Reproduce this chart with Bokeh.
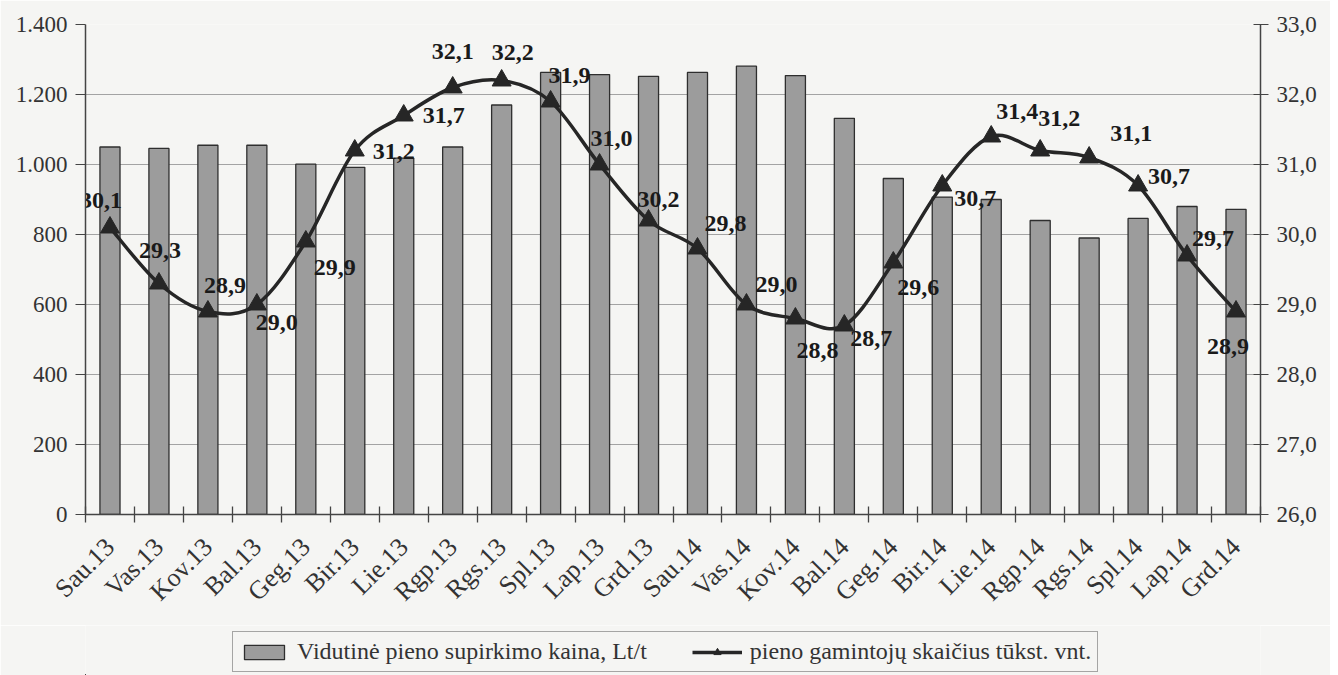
import numpy as np
from bokeh.plotting import figure
from bokeh.layouts import column
from bokeh.models import (Range1d, LinearAxis, FixedTicker, ColumnDataSource,
                          Legend, LegendItem)
from bokeh.embed import file_html
from bokeh.resources import INLINE
from bokeh.core.properties import value

# ---------------- data ----------------
months = ["Sau.13", "Vas.13", "Kov.13", "Bal.13", "Geg.13", "Bir.13", "Lie.13",
          "Rgp.13", "Rgs.13", "Spl.13", "Lap.13", "Grd.13",
          "Sau.14", "Vas.14", "Kov.14", "Bal.14", "Geg.14", "Bir.14", "Lie.14",
          "Rgp.14", "Rgs.14", "Spl.14", "Lap.14", "Grd.14"]
price = [1050, 1046, 1055, 1055, 1001, 992, 1018, 1050, 1170, 1263, 1257, 1252,
         1263, 1281, 1254, 1132, 960, 907, 900, 840, 790, 846, 880, 872]
producers = [30.1, 29.3, 28.9, 29.0, 29.9, 31.2, 31.7, 32.1, 32.2, 31.9, 31.0, 30.2,
             29.8, 29.0, 28.8, 28.7, 29.6, 30.7, 31.4, 31.2, 31.1, 30.7, 29.7, 28.9]
left_ticks = [0, 200, 400, 600, 800, 1000, 1200, 1400]
right_ticks = [26, 27, 28, 29, 30, 31, 32, 33]
bar_label = "Vidutinė pieno supirkimo kaina, Lt/t"
line_label = "pieno gamintojų skaičius tūkst. vnt."

# ---------------- style (label offsets in screen px, +y = down) ----------------
label_dx = [-9, 1, 17, 20, 29, 39, 40, 0, 11, 19, 12, 10,
            28, 30, 22, 27, 25, 33, 26, 19, 42, 31, 26, -8]
label_dy = [-27, -33, -26, 18, 26, 1, 0, -36, -28, -26, -26, -21,
            -25, -20, 32, 13, 25, 13, -25, -32, -24, -9, -17, 35]

PAPER = "#f5f5f3"
INK = "#262626"
FONT = "Liberation Serif"
BAR_FILL = "#9c9c9c"
BAR_LINE = "#2e2e2e"

n = len(months)
xs = [int(i) for i in range(n)]

p = figure(width=1330, height=625, output_backend="svg", toolbar_location=None,
           x_range=Range1d(-0.5, n - 0.5), y_range=Range1d(0, 1400),
           min_border_left=85, min_border_right=70, min_border_top=24,
           min_border_bottom=111,
           background_fill_color=PAPER, border_fill_color=PAPER,
           outline_line_color=None)
p.extra_y_ranges = {"right": Range1d(26, 33)}

# bars
p.vbar(x=xs, top=price, bottom=0, width=0.41, fill_color=BAR_FILL,
       line_color=BAR_LINE, line_width=1.3)

# smoothed line (Catmull-Rom style bezier segments between the data points)
P = np.column_stack([np.array(xs, dtype=float), np.array(producers, dtype=float)])
seg = dict(x0=[], y0=[], x1=[], y1=[], cx0=[], cy0=[], cx1=[], cy1=[])
for i in range(n - 1):
    p0 = P[i - 1] if i > 0 else P[i]
    p1 = P[i]
    p2 = P[i + 1]
    p3 = P[i + 2] if i + 2 < n else P[i + 1]
    c0 = p1 + (p2 - p0) / 6.0
    c1 = p2 - (p3 - p1) / 6.0
    seg["x0"].append(p1[0]); seg["y0"].append(p1[1])
    seg["x1"].append(p2[0]); seg["y1"].append(p2[1])
    seg["cx0"].append(c0[0]); seg["cy0"].append(c0[1])
    seg["cx1"].append(c1[0]); seg["cy1"].append(c1[1])
p.bezier(x0="x0", y0="y0", x1="x1", y1="y1", cx0="cx0", cy0="cy0",
         cx1="cx1", cy1="cy1", source=ColumnDataSource(seg),
         line_color=INK, line_width=3.5, y_range_name="right")

p.scatter(x=xs, y=producers, marker="triangle", size=19,
          fill_color=INK, line_color=INK, y_range_name="right")

labels = [f"{v:.1f}".replace(".", ",") for v in producers]
p.text(x=xs, y=producers, text=labels, x_offset=label_dx, y_offset=label_dy,
       text_align="center", text_baseline="middle", text_color="#1a1a1a",
       text_font=value(FONT), text_font_style="bold", text_font_size="24px",
       y_range_name="right")

# x axis: labels at category centres, ticks at category borders
xa = p.xaxis[0]
xa.ticker = FixedTicker(ticks=xs, minor_ticks=[i - 0.5 for i in range(n + 1)])
xa.major_label_overrides = {i: m for i, m in zip(xs, months)}
xa.major_tick_line_color = None
xa.major_tick_in = 0
xa.major_tick_out = 0
xa.minor_tick_in = 8
xa.minor_tick_out = 8
xa.minor_tick_line_color = "#444444"
xa.minor_tick_line_width = 1.3
xa.major_label_orientation = np.pi / 4
xa.major_label_standoff = 20
xa.axis_line_color = "#444444"
xa.axis_line_width = 1.5
xa.major_label_text_font = FONT
xa.major_label_text_font_size = "26px"
xa.major_label_text_color = "#333333"

# left axis
ya = p.yaxis[0]
ya.ticker = FixedTicker(ticks=left_ticks)
ya.major_label_overrides = {v: f"{v:,}".replace(",", ".") for v in left_ticks}
ya.major_tick_in = 0
ya.major_tick_out = 10

# right axis
ra = LinearAxis(y_range_name="right", ticker=FixedTicker(ticks=right_ticks))
ra.major_label_overrides = {v: f"{v:.1f}".replace(".", ",") for v in right_ticks}
ra.major_tick_in = 7
ra.major_tick_out = 8
p.add_layout(ra, "right")

for ax in (ya, ra):
    ax.minor_tick_line_color = None
    ax.axis_line_color = "#444444"
    ax.axis_line_width = 1.5
    ax.major_tick_line_color = "#444444"
    ax.major_label_text_font = FONT
    ax.major_label_text_font_size = "23px"
    ax.major_label_text_color = "#333333"
    ax.major_label_standoff = 8

p.ygrid.ticker = FixedTicker(ticks=left_ticks)
p.ygrid.grid_line_color = "#a3a3a3"
p.ygrid.grid_line_width = 1
p.xgrid.visible = False

# ---------------- legend strip below the chart ----------------
# the key renderers use the same series, kept outside this strip's visible range
lg = figure(width=1330, height=50, output_backend="svg", toolbar_location=None,
            x_range=Range1d(1000, 1001), y_range=Range1d(50000, 50010),
            min_border_left=0, min_border_right=0, min_border_top=0,
            min_border_bottom=0,
            background_fill_color=PAPER, border_fill_color=PAPER,
            outline_line_color=None)
lg.axis.visible = False
lg.grid.visible = False
key_bar = lg.vbar(x=xs, top=price, bottom=0, width=0.41, fill_color=BAR_FILL,
                  line_color=BAR_LINE, line_width=1.3)
key_line = lg.line(x=xs, y=producers, line_color=INK, line_width=3.5)
key_mark = lg.scatter(x=xs, y=producers, marker="triangle", size=19,
                      fill_color=INK, line_color=INK)
legend = Legend(items=[LegendItem(label=bar_label, renderers=[key_bar]),
                       LegendItem(label=line_label, renderers=[key_line, key_mark])],
                orientation="horizontal", location=(147, 3),
                border_line_color="#555555", border_line_width=1.3,
                background_fill_color=PAPER, background_fill_alpha=1,
                label_text_font=FONT, label_text_font_size="24px",
                label_text_color="#333333",
                glyph_width=50, glyph_height=18, spacing=45, padding=6,
                label_standoff=8, margin=0)
lg.add_layout(legend, "center")

open("out.html", "w").write(file_html(column(p, lg, spacing=0), INLINE))
